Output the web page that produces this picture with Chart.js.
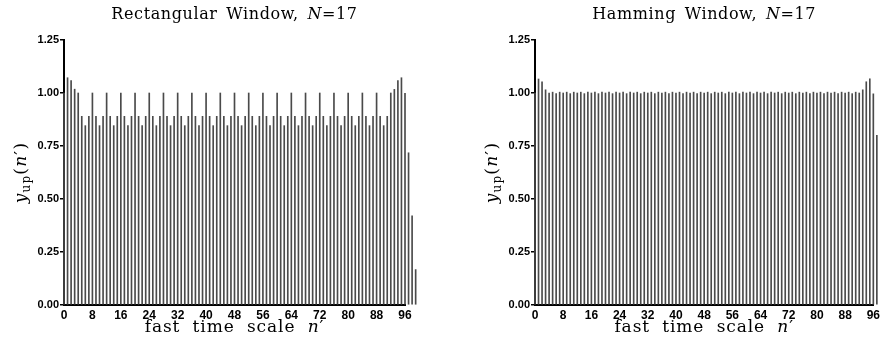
<!DOCTYPE html>
<html>
<head>
<meta charset="utf-8">
<script src="https://cdn.jsdelivr.net/npm/chart.js@4/dist/chart.umd.min.js"></script>
<style>
html,body{margin:0;padding:0;background:#fff;overflow:hidden;}
#wrap{position:relative;width:883px;height:341px;background:#fff;}
.panel{position:absolute;top:0;height:341px;}
</style>
</head>
<body>
<div id="wrap">
  <div class="panel" style="left:0;width:441px;"><canvas id="leftChart" width="441" height="341"></canvas></div>
  <div class="panel" style="left:441px;width:442px;"><canvas id="rightChart" width="442" height="341"></canvas></div>
</div>
<script>
// ---------- data ----------
const xTickLabels = ['0','8','16','24','32','40','48','56','64','72','80','88','96'];
const yTickLabels = ['0.00','0.25','0.50','0.75','1.00','1.25'];

const leftTitle = 'Rectangular Window, ';
const rightTitle = 'Hamming Window, ';
const titleSuffixItalic = 'N';
const titleSuffix = '=17';
const xAxisLabel = 'fast time scale ';
const xAxisLabelVar = 'n';
const yAxisLabelVar = 'y';
const yAxisLabelSub = 'up';

// y_up(n') for the rectangular-window interpolator, n' = 0..99
const rectValues = [
  1.000, 1.072, 1.058, 1.018, 1.000, 0.890, 0.846, 0.890, 1.000, 0.890,
  0.846, 0.890, 1.000, 0.890, 0.846, 0.890, 1.000, 0.890, 0.846, 0.890,
  1.000, 0.890, 0.846, 0.890, 1.000, 0.890, 0.846, 0.890, 1.000, 0.890,
  0.846, 0.890, 1.000, 0.890, 0.846, 0.890, 1.000, 0.890, 0.846, 0.890,
  1.000, 0.890, 0.846, 0.890, 1.000, 0.890, 0.846, 0.890, 1.000, 0.890,
  0.846, 0.890, 1.000, 0.890, 0.846, 0.890, 1.000, 0.890, 0.846, 0.890,
  1.000, 0.890, 0.846, 0.890, 1.000, 0.890, 0.846, 0.890, 1.000, 0.890,
  0.846, 0.890, 1.000, 0.890, 0.846, 0.890, 1.000, 0.890, 0.846, 0.890,
  1.000, 0.890, 0.846, 0.890, 1.000, 0.890, 0.846, 0.890, 1.000, 0.890,
  0.846, 0.890, 1.000, 1.017, 1.058, 1.072, 0.998, 0.718, 0.421, 0.167
];

// y_up(n') for the Hamming-window interpolator, n' = 0..97 (rest is off the picture)
const hammValues = [
  1.000, 1.066, 1.053, 1.015, 1.000, 1.004, 0.997, 1.004, 1.000, 1.004,
  0.997, 1.004, 1.000, 1.004, 0.997, 1.004, 1.000, 1.004, 0.997, 1.004,
  1.000, 1.004, 0.997, 1.004, 1.000, 1.004, 0.997, 1.004, 1.000, 1.004,
  0.997, 1.004, 1.000, 1.004, 0.997, 1.004, 1.000, 1.004, 0.997, 1.004,
  1.000, 1.004, 0.997, 1.004, 1.000, 1.004, 0.997, 1.004, 1.000, 1.004,
  0.997, 1.004, 1.000, 1.004, 0.997, 1.004, 1.000, 1.004, 0.997, 1.004,
  1.000, 1.004, 0.997, 1.004, 1.000, 1.004, 0.997, 1.004, 1.000, 1.004,
  0.997, 1.004, 1.000, 1.004, 0.997, 1.004, 1.000, 1.004, 0.997, 1.004,
  1.000, 1.004, 0.997, 1.004, 1.000, 1.004, 0.997, 1.004, 1.000, 1.004,
  0.997, 1.004, 1.000, 1.015, 1.053, 1.067, 0.996, 0.800
];

// ---------- drawing ----------
const SERIF = '"DejaVu Serif", serif';
const SANS = '"Liberation Sans", Arial, sans-serif';

function setSpacing(ctx, ls, ws) {
  ctx.letterSpacing = (ls || 0) + 'px';
  ctx.wordSpacing = (ws || 0) + 'px';
}
function richWidth(ctx, segs) {
  let w = 0;
  segs.forEach(s => { ctx.font = s.f; w += ctx.measureText(s.t).width; });
  return w;
}
function drawRich(ctx, segs, cx, y, ls, ws) {
  setSpacing(ctx, ls, ws);
  let x = cx - richWidth(ctx, segs) / 2;
  ctx.textAlign = 'left';
  ctx.textBaseline = 'alphabetic';
  segs.forEach(s => {
    ctx.font = s.f;
    ctx.fillText(s.t, x, y + (s.dy || 0));
    x += ctx.measureText(s.t).width;
  });
  setSpacing(ctx, 0, 0);
}

const labelPlugin = {
  id: 'labels',
  afterDraw(chart, args, opts) {
    const ctx = chart.ctx;
    const a = chart.chartArea;
    const cx = (a.left + a.right) / 2;
    ctx.save();
    ctx.fillStyle = '#000';
    drawRich(ctx, [
      {t: opts.title, f: '16px ' + SERIF},
      {t: titleSuffixItalic, f: 'italic 16px ' + SERIF},
      {t: titleSuffix, f: '16px ' + SERIF}
    ], cx, 19, 0.6, 3);
    drawRich(ctx, [
      {t: xAxisLabel, f: '17px ' + SERIF},
      {t: xAxisLabelVar, f: 'italic 17px ' + SERIF},
      {t: '\u2032', f: '17px ' + SERIF}
    ], cx, 332, 0.9, 6);
    ctx.translate(a.left - opts.yLabelOffset, (a.top + a.bottom) / 2);
    ctx.rotate(-Math.PI / 2);
    drawRich(ctx, [
      {t: yAxisLabelVar, f: 'italic 17px ' + SERIF},
      {t: yAxisLabelSub, f: '12px ' + SERIF, dy: 4},
      {t: '(', f: '17px ' + SERIF},
      {t: xAxisLabelVar, f: 'italic 17px ' + SERIF},
      {t: '\u2032', f: '17px ' + SERIF},
      {t: ')', f: '17px ' + SERIF}
    ], 0, 0, 1.2, 0);
    ctx.restore();
  }
};

function makeChart(id, values, cfg) {
  const points = values.map((v, i) => ({x: i, y: v}));
  return new Chart(document.getElementById(id), {
    type: 'bar',
    data: {
      datasets: [{
        data: points,
        backgroundColor: '#4a4a4a',
        borderWidth: 0,
        barThickness: 1,
        clip: false
      }]
    },
    options: {
      responsive: false,
      animation: false,
      devicePixelRatio: 1,
      layout: {padding: {top: 40, right: cfg.padRight, left: 0, bottom: 0}},
      plugins: {
        legend: {display: false},
        tooltip: {enabled: false},
        title: {display: false},
        labels: {title: cfg.title, yLabelOffset: cfg.yLabelOffset}
      },
      scales: {
        x: {
          type: 'linear',
          min: 0, max: 96,
          offset: false,
          afterFit(s) { s.height = 36; },
          grid: {display: true, drawOnChartArea: false, drawTicks: false, offset: false},
          border: {display: true, color: '#000', width: 2},
          ticks: {
            stepSize: 8, autoSkip: false, maxRotation: 0, padding: 3, color: '#000',
            font: {family: SANS, size: 12, weight: 'bold'},
            callback: (v) => { const s = String(v); return xTickLabels.includes(s) ? s : ''; }
          }
        },
        y: {
          min: 0, max: 1.25,
          afterFit(s) { s.width = cfg.yWidth; },
          grid: {display: true, drawOnChartArea: false, drawTicks: true, tickLength: 4, color: '#000', lineWidth: 1.5},
          border: {display: true, color: '#000', width: 2},
          ticks: {
            stepSize: 0.25, padding: 1, color: '#000',
            font: {family: SANS, size: 11, weight: 'bold'},
            callback: (v, i) => yTickLabels[i]
          }
        }
      }
    },
    plugins: [labelPlugin]
  });
}

makeChart('leftChart', rectValues, {title: leftTitle, padRight: 36, yWidth: 64, yLabelOffset: 38});
makeChart('rightChart', hammValues, {title: rightTitle, padRight: 6, yWidth: 94, yLabelOffset: 38});
</script>
</body>
</html>
